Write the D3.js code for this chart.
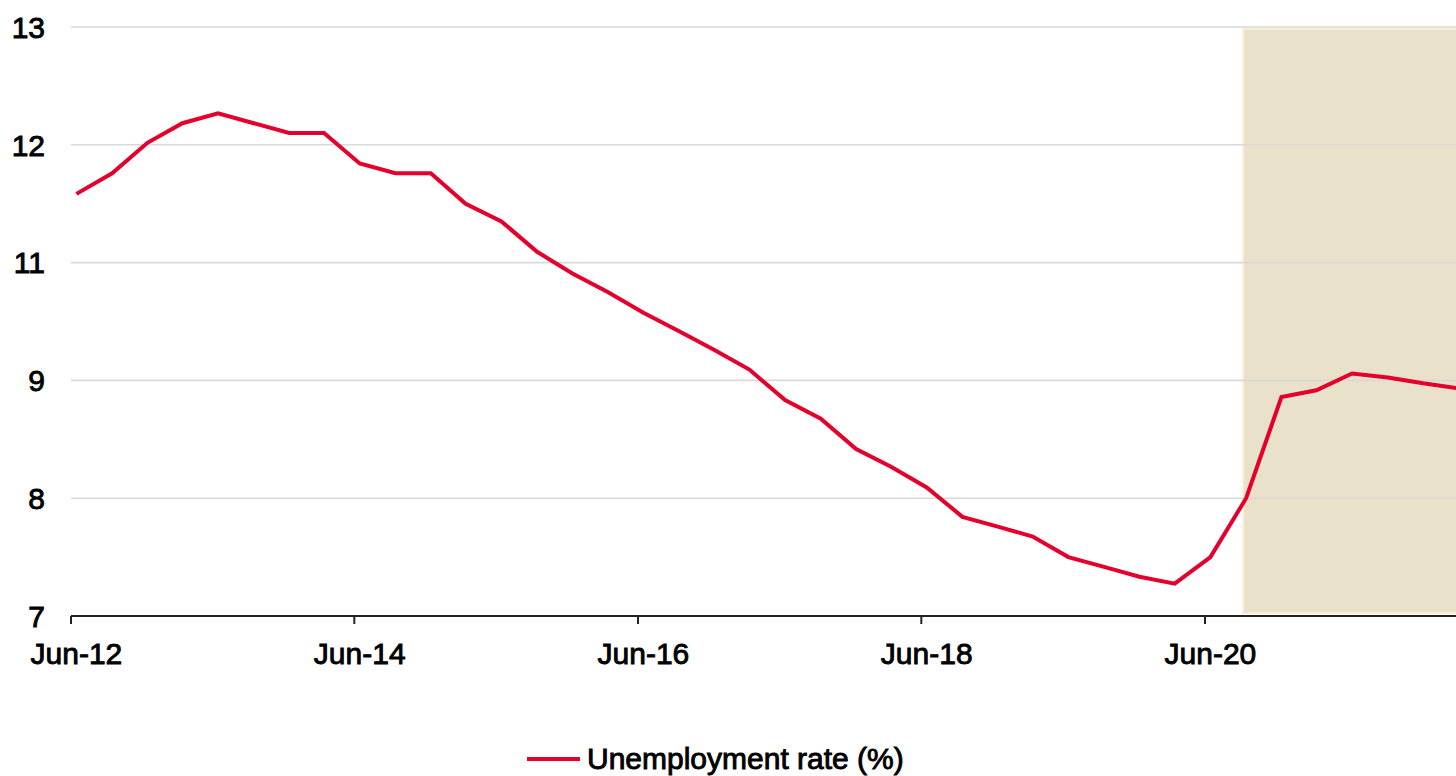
<!DOCTYPE html>
<html>
<head>
<meta charset="utf-8">
<script src="https://cdn.jsdelivr.net/npm/d3@7"></script>
<style>
  html, body { margin: 0; padding: 0; background: #fff; overflow: hidden; }
  svg { display: block; }
  text { font-family: "Liberation Sans", Arial, sans-serif; font-size: 30px; fill: #000; stroke: #000; stroke-width: 0.9px; }
</style>
</head>
<body>
<svg id="chart" width="1456" height="776"></svg>
<script>
// Quarterly unemployment rate, mid-month of Jun / Sep / Dec / Mar, Jun-12 to Mar-22
const quarterDates = [
  "2012-06-15","2012-09-15","2012-12-15","2013-03-15",
  "2013-06-15","2013-09-15","2013-12-15","2014-03-15",
  "2014-06-15","2014-09-15","2014-12-15","2015-03-15",
  "2015-06-15","2015-09-15","2015-12-15","2016-03-15",
  "2016-06-15","2016-09-15","2016-12-15","2017-03-15",
  "2017-06-15","2017-09-15","2017-12-15","2018-03-15",
  "2018-06-15","2018-09-15","2018-12-15","2019-03-15",
  "2019-06-15","2019-09-15","2019-12-15","2020-03-15",
  "2020-06-15","2020-09-15","2020-12-15","2021-03-15",
  "2021-06-15","2021-09-15","2021-12-15","2022-03-15"
];
const unemploymentRate = [
  11.30, 11.51, 11.82, 12.02,
  12.12, 12.02, 11.92, 11.92,
  11.61, 11.51, 11.51, 11.20,
  11.02, 10.71, 10.49, 10.30,
  10.09, 9.90, 9.71, 9.51,
  9.20, 9.01, 8.70, 8.52,
  8.31, 8.01, 7.91, 7.81,
  7.60, 7.50, 7.40, 7.33,
  7.60, 8.20, 9.23, 9.30,
  9.47, 9.43, 9.37, 9.32
];
// Axis ticks: y from 7 to 13 in steps of 1.2, labels rounded to whole numbers
const yTickValues = [7, 8.2, 9.4, 10.6, 11.8, 13];
const xTickDates = ["2012-06-01", "2014-06-01", "2016-06-01", "2018-06-01", "2020-06-01"];
// Shaded period (projection)
const shadedFrom = "2020-09-08";
const seriesName = "Unemployment rate (%)";

const parse = d3.utcParse("%Y-%m-%d");
const data = quarterDates.map((d, i) => ({ date: parse(d), value: unemploymentRate[i] }));

const svg = d3.select("#chart");
const W = 1456;

const x = d3.scaleUtc()
  .domain([parse("2012-06-01"), parse("2020-06-01")])
  .range([71, 1205]);
const y = d3.scaleLinear().domain([7, 13]).range([616, 27]);

const plotLeft = 71, plotRight = W;

// Shaded projection area
svg.append("rect")
  .attr("x", x(parse(shadedFrom)))
  .attr("y", y(13) + 2)
  .attr("width", plotRight - x(parse(shadedFrom)) + 2)
  .attr("height", y(7) - y(13) - 5)
  .attr("fill", "#E9E1CA")
  .attr("stroke", "#F6EDD2")
  .attr("stroke-width", 2);

// Horizontal gridlines
svg.append("g")
  .selectAll("line")
  .data(yTickValues.filter(v => v > 7))
  .join("line")
  .attr("x1", plotLeft)
  .attr("x2", plotRight)
  .attr("y1", d => y(d))
  .attr("y2", d => y(d))
  .attr("stroke", "#D9D9D9")
  .attr("stroke-width", 1.6);

// Y axis labels (no axis line)
const fmtY = d3.format(".0f");
svg.append("g")
  .selectAll("text")
  .data(yTickValues)
  .join("text")
  .attr("x", 45)
  .attr("y", d => y(d))
  .attr("dy", "0.36em")
  .attr("text-anchor", "end")
  .text(d => fmtY(d));

// X axis line and ticks
const xAxis = svg.append("g");
xAxis.append("line")
  .attr("x1", plotLeft)
  .attr("x2", plotRight)
  .attr("y1", y(7))
  .attr("y2", y(7))
  .attr("stroke", "#222")
  .attr("stroke-width", 2);
xAxis.selectAll("line.tick")
  .data(xTickDates.map(parse))
  .join("line")
  .attr("class", "tick")
  .attr("x1", d => x(d))
  .attr("x2", d => x(d))
  .attr("y1", y(7))
  .attr("y2", y(7) + 8)
  .attr("stroke", "#222")
  .attr("stroke-width", 2);
const fmtX = d3.utcFormat("%b-%y");
xAxis.selectAll("text")
  .data(xTickDates.map(parse))
  .join("text")
  .attr("x", d => x(d3.utcDay.offset(d, 14)))
  .attr("y", 664)
  .attr("text-anchor", "middle")
  .text(d => fmtX(d));

// Series line
const line = d3.line()
  .x(d => x(d.date))
  .y(d => y(d.value));
svg.append("path")
  .datum(data)
  .attr("d", line)
  .attr("fill", "none")
  .attr("stroke", "#E4002B")
  .attr("stroke-width", 4)
  .attr("stroke-linejoin", "miter");

// Legend
const legend = svg.append("g").attr("transform", "translate(527,759)");
legend.append("line")
  .attr("x1", 0).attr("x2", 53)
  .attr("y1", 0).attr("y2", 0)
  .attr("stroke", "#E4002B")
  .attr("stroke-width", 4);
legend.append("text")
  .attr("x", 60)
  .attr("y", 10)
  .text(seriesName);
</script>
</body>
</html>
